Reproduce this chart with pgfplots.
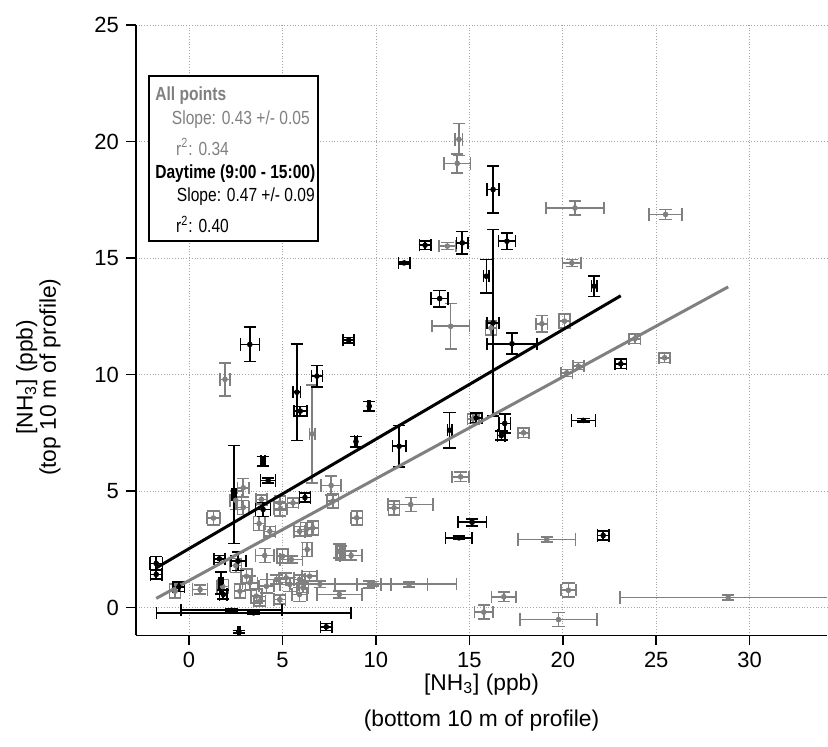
\documentclass[border=0pt]{standalone}
\usepackage{pgfplots}
\pgfplotsset{compat=1.18}
\usepackage{pgfplotstable}
\usepackage{fontspec}
\setmainfont{Liberation Sans}
\newfontfamily\narrowsans{Liberation Sans}[FakeStretch=0.82]
\definecolor{ptgray}{RGB}{128,128,128}

% all points (grey) and daytime points (black): x y x-error y-error
\pgfplotstableread{
x y ex ey
1.92 9.79 0.27 0.70
6.59 7.45 0.15 2.10
7.60 5.24 0.53 0.40
7.69 4.56 0.30 0.30
14.44 20.09 0.20 0.69
14.35 19.06 0.71 0.40
13.82 15.51 0.45 0.15
14.00 12.07 1.01 0.97
16.16 12.00 0.30 0.30
18.88 12.18 0.30 0.35
20.65 17.15 1.55 0.30
25.50 16.87 0.88 0.22
20.48 14.79 0.49 0.15
20.09 12.29 0.30 0.30
23.85 11.53 0.30 0.20
25.45 10.72 0.30 0.20
20.83 10.36 0.30 0.15
20.21 10.07 0.30 0.15
17.90 7.50 0.30 0.20
15.20 8.10 0.30 0.20
14.53 5.61 0.45 0.20
11.86 4.42 1.20 0.30
10.97 4.28 0.30 0.30
19.14 2.92 1.53 0.10
20.30 0.74 0.40 0.30
28.85 0.43 5.80 0.10
16.84 0.46 0.66 0.20
15.77 -0.20 0.50 0.30
19.77 -0.52 2.06 0.30
11.77 0.99 0.98 0.10
9.85 1.02 4.45 0.10
8.97 3.85 0.30 0.30
8.13 2.35 0.20 0.30
8.67 2.23 0.58 0.20
9.64 0.99 0.64 0.15
8.04 0.56 1.20 0.15
1.30 3.84 0.35 0.30
0.59 0.77 0.40 0.20
-0.75 0.70 0.30 0.30
4.88 4.24 0.35 0.30
3.75 3.60 0.30 0.30
6.27 3.35 0.30 0.30
6.32 2.49 0.25 0.30
4.05 2.23 0.50 0.30
5.47 2.06 0.60 0.15
4.32 3.27 0.30 0.20
5.91 3.27 0.30 0.20
6.62 3.42 0.30 0.30
8.04 2.42 0.20 0.30
2.72 0.70 0.30 0.30
3.25 1.06 0.40 0.30
3.60 0.49 0.30 0.30
4.14 0.91 0.40 0.30
4.67 1.20 0.50 0.20
5.20 1.27 0.40 0.20
5.38 0.99 0.50 0.30
5.91 1.20 0.30 0.20
5.91 0.56 0.40 0.30
6.45 1.34 0.40 0.20
4.85 0.34 0.30 0.20
3.78 0.27 0.30 0.20
3.07 1.34 0.30 0.30
6.09 0.85 0.30 0.20
2.90 5.14 0.30 0.40
3.87 4.64 0.30 0.20
4.85 4.49 0.30 0.30
5.56 4.49 0.30 0.20
2.50 4.60 0.30 0.40
2.90 4.30 0.30 0.30
1.80 0.90 0.30 0.30
2.50 1.80 0.30 0.30
7.00 1.00 0.80 0.15
5.00 2.20 0.30 0.30
}\graypts

\pgfplotstableread{
x y ex ey
3.25 11.29 0.51 0.74
5.77 9.24 0.20 2.07
5.95 8.43 0.35 0.20
6.84 9.93 0.30 0.46
8.54 11.47 0.30 0.12
9.64 8.64 0.05 0.20
8.93 7.12 0.08 0.22
3.95 6.28 0.10 0.20
4.23 5.45 0.40 0.10
2.40 4.85 0.10 2.10
6.20 4.72 0.30 0.20
16.27 17.94 0.33 1.02
12.63 15.55 0.30 0.18
14.62 15.65 0.30 0.49
17.01 15.72 0.45 0.35
11.51 14.79 0.30 0.05
15.91 14.22 0.15 0.72
13.41 13.26 0.45 0.35
16.27 12.22 0.32 4.00
17.28 11.32 1.33 0.45
21.68 13.79 0.15 0.45
23.10 10.46 0.30 0.20
21.10 8.03 0.64 0.08
11.24 6.92 0.36 0.89
13.94 7.61 0.12 0.76
15.36 8.14 0.30 0.20
16.89 7.90 0.30 0.40
16.71 7.38 0.20 0.20
15.15 3.66 0.76 0.15
14.44 2.99 0.71 0.08
22.16 3.09 0.30 0.20
2.27 -0.12 2.70 0.08
3.45 -0.23 5.20 0.05
2.66 -1.04 0.05 0.05
7.34 -0.83 0.30 0.15
-1.76 1.89 0.34 0.30
-1.76 1.42 0.30 0.20
-0.55 0.89 0.30 0.20
1.62 2.09 0.30 0.15
2.63 1.99 0.40 0.40
1.70 1.06 0.10 0.47
1.83 0.56 0.20 0.20
3.96 4.21 0.40 0.30
}\blackpts

\begin{document}
\begin{tikzpicture}
\begin{axis}[
    width=346pt, height=305.5pt, scale only axis,
    xmin=-2.85, xmax=34.15,
    ymin=-1.2, ymax=25,
    axis x line*=bottom, axis y line*=left,
    axis line style={line width=0.8pt},
    xtick={0,5,...,30}, ytick={0,5,...,25},
    tick align=outside, major tick length=5pt,
    tick style={line width=0.8pt, black},
    grid=major, grid style={densely dotted, black!35, line width=0.4pt},
    /pgf/number format/assume math mode=true,
    ticklabel style={font=\fontsize{11}{13}\selectfont},
    xlabel={[NH\textsubscript{3}] (ppb)\\(bottom 10 m of profile)},
    xlabel style={align=center, font=\fontsize{11.4}{18.5}\selectfont,
        at={(axis description cs:0.5,-0.11)}, anchor=center},
    ylabel={[NH\textsubscript{3}] (ppb)\\(top 10 m of profile)},
    ylabel style={align=center, font=\fontsize{11.4}{10.5}\selectfont,
        at={(axis description cs:-0.141,0.423)}, anchor=center},
    error bars/error bar style={line width=0.8pt},
]
\addplot[only marks, mark=*, mark size=1.2pt, ptgray,
    error bars/.cd, x dir=both, x explicit, y dir=both, y explicit,
    error mark options={rotate=90, ptgray, mark size=3.1pt, line width=0.8pt}]
    table[x=x, y=y, x error=ex, y error=ey] {\graypts};
\addplot[only marks, mark=*, mark size=1.2pt, black,
    error bars/.cd, x dir=both, x explicit, y dir=both, y explicit,
    error mark options={rotate=90, black, mark size=3.1pt, line width=0.8pt}]
    table[x=x, y=y, x error=ex, y error=ey] {\blackpts};

% fitted lines
\addplot[ptgray, line width=1.5pt] coordinates {(-1.76,0.39) (28.85,13.76)};
\addplot[black, line width=1.5pt] coordinates {(-1.76,1.70) (23.10,13.38)};

% statistics box
\draw[line width=0.9pt, fill=white] (axis cs:-2.14,15.73) rectangle (axis cs:6.89,22.81);
\begin{scope}[every node/.style={anchor=base west, inner sep=0pt, font=\narrowsans\fontsize{9.5}{11}\selectfont}]
\node[text=ptgray] at (axis cs:-1.83,21.77) {\bfseries All points};
\node[text=ptgray] at (axis cs:-0.94,20.73) {Slope: 0.43 +/- 0.05};
\node[text=ptgray] at (axis cs:-0.71,19.40) {r\textsuperscript{2}: 0.34};
\node at (axis cs:-1.83,18.40) {\bfseries Daytime (9:00 - 15:00)};
\node at (axis cs:-0.67,17.44) {Slope: 0.47 +/- 0.09};
\node at (axis cs:-0.71,16.08) {r\textsuperscript{2}: 0.40};
\end{scope}

\coordinate (bbA) at (axis description cs:-0.1965,-0.1817);
\coordinate (bbB) at (axis description cs:1,1.041);
\end{axis}
\path (bbA) rectangle (bbB);
\end{tikzpicture}
\end{document}
